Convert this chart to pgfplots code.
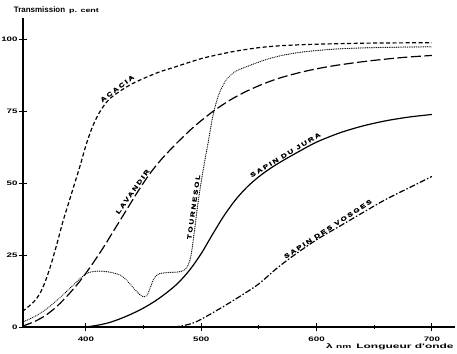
\documentclass[border=0pt]{standalone}
\usepackage{fontspec}
\setmainfont{Liberation Sans}
\newfontfamily\tickfont[FakeStretch=1.5]{Liberation Sans}
\newfontfamily\axlabfont[FakeStretch=1.85]{Liberation Sans}
\newfontfamily\labfont[FakeStretch=1.35,LetterSpace=30,FakeBold=1.2]{Liberation Sans}
\usepackage{pgfplots}
\pgfplotsset{compat=1.18}

\pgfplotstableread{
x y
345 5.4
350 7
355 8.8
360 11.5
365 16
370 22
375 29
380 36.5
385 43
390 49.5
395 56
400 63
405 68.8
410 73.2
415 76.5
420 79
427 81.2
438 84
450 86.3
464 88.6
475 90
485 91.3
500 93.2
515 94.6
530 95.8
550 97
570 97.7
600 98.2
650 98.6
700 98.7
}\acacia

\pgfplotstableread{
x y
345 0.3
355 1.8
365 4
375 7.2
385 11.3
395 16
405 21.5
415 27.5
425 34
435 40.5
445 47
455 53
465 58
475 62.3
485 66.3
495 70
510 74.8
525 78.8
540 82
555 84.6
570 86.7
590 88.8
610 90.4
630 91.6
650 92.6
675 93.6
700 94.3
}\lavandir

\pgfplotstableread{
x y
345 1.7
355 3.5
365 6
375 9.3
385 13
395 16.8
402 18.8
410 19.4
420 19.1
430 18
436 16
442 13.2
447 11.2
450 10.5
453 11
456 13.8
459 16.8
463 18.4
470 18.9
480 19.1
485 19.7
488 21
491 24.5
494 33
497 42.5
500 50.5
503 57.5
506 64
509 71
512 76.5
516 81.5
522 86
530 88.8
540 90.5
555 92.7
570 94.3
590 95.6
620 96.6
660 97.1
700 97.3
}\tournesol

\pgfplotstableread{
x y
400 0
410 0.6
420 1.5
430 2.9
440 4.6
450 6.6
460 9
470 11.9
480 15.3
490 19.8
500 25.5
510 32.3
520 38.8
530 44.3
540 48.7
550 52.2
560 55.1
570 57.6
585 61
600 64.2
620 67.4
640 69.8
660 71.6
680 72.9
700 73.8
}\jura

\pgfplotstableread{
x y
476 0
485 0.5
495 1.7
505 3.8
520 7.3
535 11
550 15
565 20.2
580 24.8
600 30.3
620 35
640 39.7
660 44.3
680 48.3
700 52.3
}\vosges

\begin{document}
\begin{tikzpicture}
\begin{axis}[
  scale only axis,
  width=432bp, height=309bp,
  xmin=345.5, xmax=720,
  ymin=0, ymax=107.3,
  axis lines=left,
  axis line style={-, line width=1.1bp},
  clip=false,
  xtick={400,500,600,700},
  minor xtick={450,550,650},
  ytick={0,25,50,75,100},
  tick align=center,
  major tick length=8bp,
  minor tick length=4bp,
  every tick/.style={black, line width=0.9bp},
  /pgf/number format/assume math mode=true,
  tick label style={font=\fontsize{6.5}{7}\tickfont\bfseries},
  xticklabel style={yshift=-2bp},
  yticklabel style={xshift=2bp},
]
\addplot[black, line width=1.2bp, dash pattern=on 4bp off 2.5bp, smooth, tension=0.5] table {\acacia};
\addplot[black, line width=1.2bp, dash pattern=on 10bp off 3.5bp, smooth, tension=0.5] table {\lavandir};
\addplot[black, line width=1.25bp, line cap=round, dash pattern=on 0.01bp off 1.8bp, smooth, tension=0.5] table {\tournesol};
\addplot[black, line width=1.2bp, smooth, tension=0.5] table {\jura};
\addplot[black, line width=1.2bp, dash pattern=on 6bp off 2bp on 1.5bp off 2bp, smooth, tension=0.5] table {\vosges};

\tikzset{lab/.style={font=\fontsize{6}{7}\labfont\bfseries, inner sep=0pt, anchor=south, outer sep=1.5bp}}
\node[lab, rotate=37] at (axis cs:429,81.8) {ACACIA};
\node[lab, rotate=54.5] at (axis cs:443,46.3) {LAVANDIR};
\node[lab, rotate=82] at (axis cs:496.5,41.5) {TOURNESOL};
\node[lab, rotate=31] at (axis cs:574.5,58.7) {SAPIN DU JURA};
\node[lab, rotate=33] at (axis cs:611.5,33) {SAPIN DES VOSGES};

\node[anchor=base west, inner sep=0pt] at (axis cs:337.4,109.2)
  {\fontsize{8}{9}\selectfont\bfseries Transmission\hspace{4bp}{\fontsize{6}{7}\tickfont\bfseries p. cent}};
\node[anchor=base east, inner sep=0pt] at (axis cs:719,-7.5)
  {\fontsize{6.5}{7}\axlabfont\bfseries λ {\fontsize{5.5}{6}\selectfont nm}\hspace{5bp}Longueur d'onde};
\end{axis}
\pgfresetboundingbox
\path[use as bounding box] ([shift={(-23bp,-27bp)}]current axis.south west) rectangle ([shift={(434bp,327bp)}]current axis.south west);
\end{tikzpicture}
\end{document}
